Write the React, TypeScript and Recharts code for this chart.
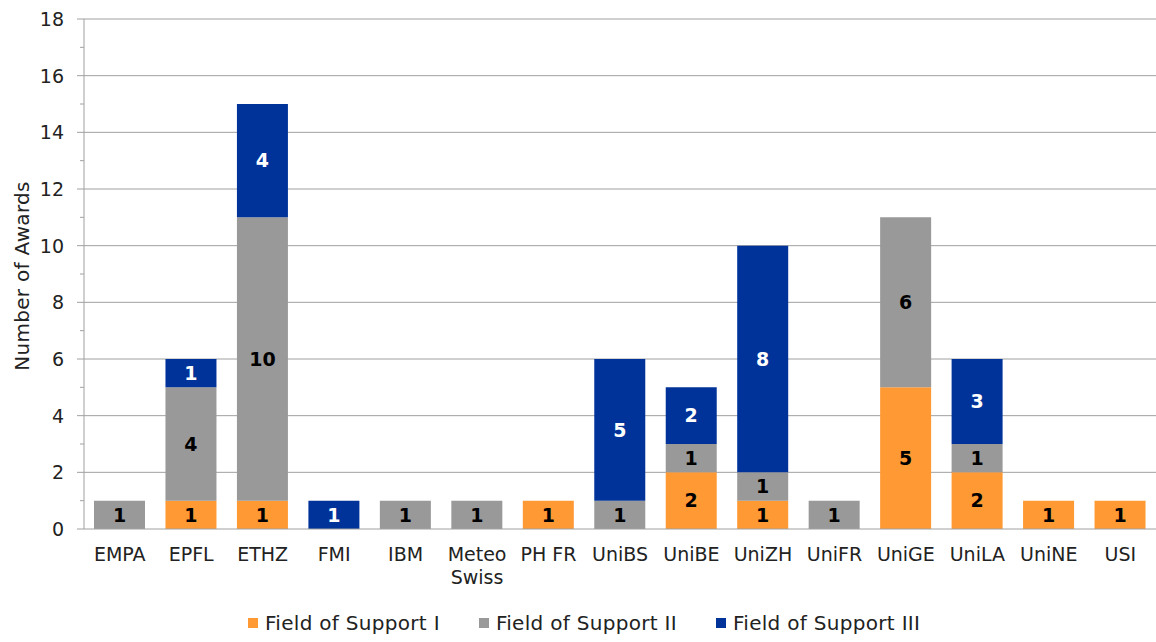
import React from 'react';
import {
  BarChart, Bar, XAxis, YAxis, CartesianGrid, Legend, LabelList, Label, Text
} from 'recharts';

// --- Data ---
const categories = ['EMPA', 'EPFL', 'ETHZ', 'FMI', 'IBM', 'Meteo Swiss', 'PH FR', 'UniBS', 'UniBE', 'UniZH', 'UniFR', 'UniGE', 'UniLA', 'UniNE', 'USI'];
const fieldI = [0, 1, 1, 0, 0, 0, 1, 0, 2, 1, 0, 5, 2, 1, 1];
const fieldII = [1, 4, 10, 0, 1, 1, 0, 1, 1, 1, 1, 6, 1, 0, 0];
const fieldIII = [0, 1, 4, 1, 0, 0, 0, 5, 2, 8, 0, 0, 3, 0, 0];
const yTicks = [0, 1, 2, 3, 4, 5, 6, 7, 8, 9, 10, 11, 12, 13, 14, 15, 16, 17, 18];
const gridValues = [2, 4, 6, 8, 10, 12, 14, 16, 18];

// --- Styles ---
const FONT = '"DejaVu Sans", Verdana, sans-serif';
const COLORS = { I: '#FF9933', II: '#999999', III: '#003399' };
const AXIS = '#a0a0a0';

const data = categories.map((name, i) => ({ name, I: fieldI[i], II: fieldII[i], III: fieldIII[i] }));

const hideZero = (v: any) => (v ? v : '');

const YTick = ({ x, y, payload }: any) => {
  const major = payload.value % 2 === 0;
  return (
    <g>
      <line x1={x - (major ? 7 : 4)} x2={x} y1={y} y2={y} stroke={AXIS} />
      {major && (
        <text x={x - 20} y={y} dy="0.36em" textAnchor="end" fill="#222" fontSize={19} fontFamily={FONT}>
          {payload.value}
        </text>
      )}
    </g>
  );
};

const XTick = ({ x, y, payload }: any) => (
  <Text x={x} y={y + 19} width={70} textAnchor="middle" verticalAnchor="start" lineHeight={23}
    fill="#222" fontSize={19} fontFamily={FONT}>
    {payload.value}
  </Text>
);

const LegendContent = ({ payload }: any) => (
  <div style={{ display: 'flex', fontFamily: FONT, fontSize: 20, letterSpacing: 0.3, color: '#222' }}>
    {(payload || []).map((p: any) => (
      <div key={p.value} style={{ display: 'flex', alignItems: 'center', marginRight: 39 }}>
        <span style={{ width: 10, height: 10, background: p.color, marginRight: 7, display: 'inline-block' }} />
        <span>{p.value}</span>
      </div>
    ))}
  </div>
);

const App: React.FC = () => (
  <div style={{ position: 'absolute', left: 0, top: 0, width: 1156, height: 642, background: '#fff' }}>
    <BarChart width={1156} height={642} data={data} margin={{ top: 19, right: 0, bottom: 83, left: 0 }}>
      <CartesianGrid vertical={false} horizontalValues={gridValues} stroke={AXIS} />
      <XAxis dataKey="name" height={30} interval={0} axisLine={{ stroke: AXIS }} tickLine={false} tickSize={0} tickMargin={0} tick={<XTick />} />
      <YAxis width={84} domain={[0, 18]} ticks={yTicks} interval={0} axisLine={{ stroke: AXIS }} tickLine={false} tickSize={0} tickMargin={0} tick={<YTick />}>
        <Label
          content={() => (
            <text x={22} y={276} transform="rotate(-90, 22, 276)" textAnchor="middle" dy="0.36em" fill="#222" fontSize={20} letterSpacing={0.3} fontFamily={FONT}>
              Number of Awards
            </text>
          )}
        />
      </YAxis>
      <Legend layout="horizontal" verticalAlign="middle" align="center" content={<LegendContent />}
        wrapperStyle={{ top: 611, left: 248, width: 'auto' }} />
      <Bar dataKey="I" name="Field of Support I" stackId="a" fill={COLORS.I} barSize={51} isAnimationActive={false}>
        <LabelList dataKey="I" position="center" formatter={hideZero} fill="#000" fontSize={19} fontWeight="bold" fontFamily={FONT} />
      </Bar>
      <Bar dataKey="II" name="Field of Support II" stackId="a" fill={COLORS.II} barSize={51} isAnimationActive={false}>
        <LabelList dataKey="II" position="center" formatter={hideZero} fill="#000" fontSize={19} fontWeight="bold" fontFamily={FONT} />
      </Bar>
      <Bar dataKey="III" name="Field of Support III" stackId="a" fill={COLORS.III} barSize={51} isAnimationActive={false}>
        <LabelList dataKey="III" position="center" formatter={hideZero} fill="#fff" fontSize={19} fontWeight="bold" fontFamily={FONT} />
      </Bar>
    </BarChart>
  </div>
);

export default App;
